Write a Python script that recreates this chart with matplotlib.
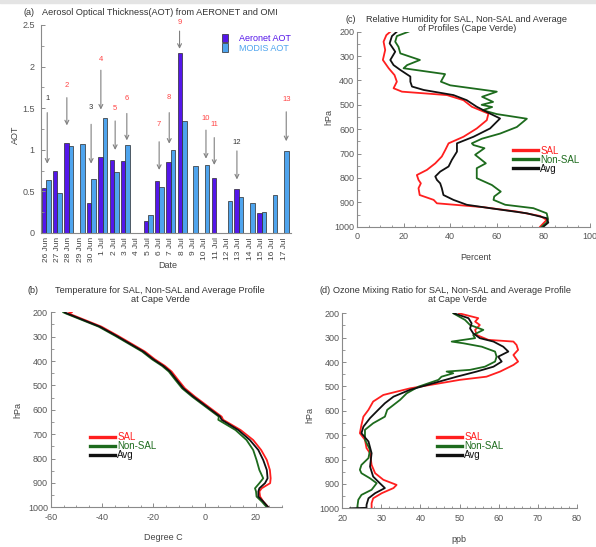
"""
Four-panel summary for Cape Verde: AOT bars (AERONET vs MODIS) and
SAL / Non-SAL / average profiles of temperature, RH and ozone.
"""

import matplotlib
matplotlib.use("Agg")
import matplotlib.pyplot as plt
from matplotlib.patches import Patch, Rectangle
from matplotlib.lines import Line2D
from matplotlib.ticker import MultipleLocator
import numpy as np

plt.rcParams['font.family'] = ['Liberation Sans', 'DejaVu Sans']
plt.rcParams['font.size'] = 6.5
plt.rcParams['axes.unicode_minus'] = False

nan = np.nan

# ---- (a) AOT ----
dates = ["26 Jun", "27 Jun", "28 Jun", "29 Jun", "30 Jun", "1 Jul", "2 Jul", "3 Jul",
         "4 Jul", "5 Jul", "6 Jul", "7 Jul", "8 Jul", "9 Jul", "10 Jul", "11 Jul",
         "12 Jul", "13 Jul", "14 Jul", "15 Jul", "16 Jul", "17 Jul"]
aeronet_aot = [0.54, 0.75, 1.08, nan, 0.36, 0.91, 0.88, 0.86, nan, 0.14, 0.63, 0.85,
               2.16, nan, nan, 0.66, nan, 0.53, nan, 0.24, nan, nan]
modis_aot = [0.64, 0.48, 1.04, 1.07, 0.65, 1.38, 0.73, 1.06, nan, 0.22, 0.55, 1.00,
             1.35, 0.80, 0.82, nan, 0.38, 0.43, 0.36, 0.25, 0.46, 0.99]

# dust events marked with arrows: number, date index, label / tail / head AOT
event_num = ["1", "2", "3", "4", "5", "6", "7", "8", "9", "10", "11", "12", "13"]
event_x = [0.1, 1.83, 3.97, 4.83, 6.09, 7.12, 9.97, 10.86, 11.77, 14.1, 14.83, 16.83, 21.18]
event_label_y = [1.62, 1.77, 1.51, 2.09, 1.50, 1.62, 1.31, 1.63, 2.53, 1.38, 1.31, 1.085, 1.60]
event_tail = [1.48, 1.66, 1.34, 1.99, 1.38, 1.47, 1.13, 1.48, 2.46, 1.27, 1.18, 1.02, 1.49]
event_head = [0.80, 1.26, 0.80, 1.45, 0.965, 1.08, 0.725, 1.04, 2.18, 0.86, 0.785, 0.61, 1.07]
event_is_sal = [False, True, False, True, True, True, True, True, True, True, True, False, True]

# ---- (c) relative humidity (%) ----
rh_sal_p = [200, 214, 241, 275, 316, 350, 378, 405, 432, 446, 460, 481, 508, 536, 563,
            597, 631, 658, 685, 712, 740, 767, 788, 808, 822, 842, 870, 890, 904, 920,
            938, 956, 972, 986, 1000]
rh_sal = [14.3, 12.6, 11.4, 12.1, 11.1, 13.6, 16.1, 17.1, 15.7, 19.3, 38.6, 45.7, 49.3,
          56.4, 55.7, 51.4, 45.7, 39.3, 37.9, 36.4, 33.6, 30.0, 25.7, 26.4, 27.4, 26.4,
          26.9, 32.9, 34.3, 54.3, 68.6, 78.6, 81.4, 80.0, 78.6]
rh_non_p = [200, 218, 241, 262, 289, 316, 337, 350, 374, 405, 420, 446, 467, 488, 500,
            509, 522, 538, 557, 591, 618, 639, 658, 665, 678, 705, 740, 760, 801, 829,
            856, 876, 890, 910, 924, 945, 969, 983, 1000]
rh_non = [22.1, 17.1, 16.4, 17.8, 18.6, 27.0, 21.5, 20.0, 37.8, 36.0, 40.0, 60.0, 53.7,
          58.4, 53.5, 58.0, 54.0, 60.0, 72.9, 68.6, 61.4, 53.6, 49.3, 50.0, 54.7, 50.7,
          55.3, 51.4, 51.4, 57.9, 61.7, 58.9, 58.6, 63.6, 75.7, 81.4, 82.0, 81.4, 79.3]
rh_avg_p = [200, 218, 248, 282, 316, 337, 357, 384, 405, 425, 439, 460, 481, 508, 536,
            556, 597, 631, 658, 692, 726, 753, 774, 794, 808, 822, 842, 870, 890, 910,
            924, 945, 965, 983, 1000]
rh_avg = [17.1, 15.0, 14.0, 16.4, 14.3, 15.7, 18.6, 22.9, 22.9, 23.6, 28.6, 41.4, 47.1,
          51.4, 57.1, 61.4, 57.1, 50.0, 42.9, 42.9, 40.7, 39.3, 35.7, 33.6, 34.3, 35.7,
          36.4, 37.1, 41.4, 47.1, 57.1, 72.9, 81.4, 82.1, 80.0]

# ---- (b) temperature (deg C) ----
t_upper_p = [204, 259, 297, 337, 361, 393, 420, 443, 478, 512, 546, 587, 628]
t_upper = [-53.8, -40.8, -34.3, -27.8, -23.9, -20.0, -16.1, -13.5, -10.9, -8.3, -4.4, 0.8, 6.0]
t_low_p = [641, 683, 724, 765, 806, 847, 881, 901, 922, 935, 956, 976, 1000]
t_sal_low = [7.2, 14.0, 18.9, 22.0, 24.2, 25.4, 25.7, 25.5, 22.2, 21.3, 21.6, 22.8, 24.8]
t_non_low = [5.3, 12.0, 16.3, 18.9, 20.2, 21.3, 22.8, 21.3, 19.6, 20.0, 20.2, 22.2, 24.2]
t_avg_low = [6.6, 13.1, 17.6, 20.9, 22.8, 24.2, 24.5, 23.5, 21.3, 20.9, 20.9, 22.8, 24.8]
t_top_sal = -51.8
t_top_non = -55.1
t_top_avg = -54.5

# ---- (d) ozone (ppb) ----
o3_sal_p = [200, 220, 234, 248, 268, 289, 309, 316, 330, 350, 371, 398, 412, 439, 460,
            473, 487, 508, 535, 562, 596, 624, 658, 692, 719, 753, 774, 822, 856, 883,
            904, 917, 938, 959, 979, 1000]
o3_sal = [49.9, 54.8, 54.0, 55.2, 54.0, 54.4, 57.4, 63.8, 64.6, 65.0, 63.8, 65.0, 63.8,
          60.4, 56.9, 50.1, 45.0, 37.3, 30.5, 27.9, 26.7, 25.4, 24.9, 24.5, 25.8, 26.2,
          27.1, 27.5, 28.4, 30.5, 33.9, 33.1, 30.1, 27.9, 27.5, 27.5]
o3_non_p = [200, 227, 248, 268, 289, 302, 316, 323, 337, 357, 378, 398, 419, 432, 439,
            446, 460, 473, 501, 528, 555, 596, 624, 651, 678, 719, 760, 794, 822, 842,
            856, 877, 897, 924, 945, 965, 1000]
o3_non = [48.4, 51.4, 52.7, 56.1, 53.5, 54.0, 48.0, 51.0, 55.7, 59.1, 59.5, 59.1, 56.5,
          52.7, 46.7, 48.4, 45.4, 44.6, 39.5, 36.5, 34.8, 31.5, 30.9, 27.9, 25.8, 25.8,
          27.1, 26.7, 24.9, 24.5, 24.9, 27.1, 28.8, 27.5, 24.9, 24.1, 23.8]
o3_avg_p = [200, 220, 241, 262, 282, 302, 316, 337, 357, 378, 398, 419, 439, 460, 487,
            514, 542, 569, 596, 630, 665, 692, 726, 774, 829, 870, 897, 917, 938, 959,
            986, 998, 1000]
o3_avg = [48.6, 52.3, 53.1, 52.7, 53.5, 55.2, 58.7, 61.2, 62.5, 59.9, 60.8, 58.7, 54.4,
          49.3, 43.3, 37.3, 33.1, 30.9, 29.2, 27.1, 25.4, 24.9, 26.7, 27.5, 27.1, 27.9,
          29.6, 30.9, 28.4, 26.7, 26.2, 26.2, 22.0]

SAL_C = "#ff1f1f"
NON_C = "#1d6b1d"
AVG_C = "#111111"
AER_C = "#5416ea"
MOD_C = "#4ea4ee"
GRID_C = "#8a8a8a"
TXT_C = "#555555"
TITLE_FS = 6.55

W, H = 596, 547


def fx(px):
    return px / W


def fy(py):
    return 1 - py / H


def style_axes(ax):
    for side in ("top", "right"):
        ax.spines[side].set_visible(False)
    for side in ("left", "bottom"):
        ax.spines[side].set_color(GRID_C)
        ax.spines[side].set_linewidth(0.8)
    ax.tick_params(which="both", direction="in", colors=GRID_C, labelcolor=TXT_C,
                   labelsize=6.5)
    ax.tick_params(which="major", length=3, width=0.7)
    ax.tick_params(which="minor", length=1.8, width=0.6)
    ax.tick_params(axis="y", pad=2)
    ax.tick_params(axis="x", pad=4)


def profile_axes(ax, xlim, xmajor, xminor):
    style_axes(ax)
    ax.set_xlim(*xlim)
    ax.set_ylim(1000, 200)
    ax.xaxis.set_major_locator(MultipleLocator(xmajor))
    ax.xaxis.set_minor_locator(MultipleLocator(xminor))
    ax.yaxis.set_major_locator(MultipleLocator(100))
    ax.yaxis.set_minor_locator(MultipleLocator(50))


def profile_legend(ax, x, y):
    handles = [Line2D([], [], color=SAL_C, lw=2.4),
               Line2D([], [], color=NON_C, lw=2.4),
               Line2D([], [], color=AVG_C, lw=2.4)]
    leg = ax.legend(handles, ["SAL", "Non-SAL", "Avg"], loc="upper left",
                    bbox_to_anchor=(x, y), frameon=False, borderpad=0,
                    borderaxespad=0, handlelength=2.6, handletextpad=0.2,
                    labelspacing=-0.1, fontsize=7)
    for t, c in zip(leg.get_texts(), [SAL_C, NON_C, AVG_C]):
        t.set_color(c)


fig = plt.figure(figsize=(W / 100, H / 100), dpi=100)
fig.patches.append(Rectangle((0, fy(3)), 1, 3 / H, transform=fig.transFigure,
                             color="#e4e4e4", zorder=0))

# (a) AOT bars
ax_a = fig.add_axes([fx(41), fy(233), fx(250), 208 / H])
style_axes(ax_a)
x = np.arange(len(dates))
bw = 0.4
ax_a.bar(x - bw / 2, aeronet_aot, bw, color=AER_C, edgecolor="#2a2a2a", linewidth=0.5)
ax_a.bar(x + bw / 2, modis_aot, bw, color=MOD_C, edgecolor="#2a2a2a", linewidth=0.5)
ax_a.set_xlim(-0.45, 21.6)
ax_a.set_ylim(0, 2.5)
ax_a.set_xticks(x)
ax_a.set_xticklabels(dates, rotation=90, fontsize=6)
ax_a.tick_params(axis="x", length=0, pad=3, labelcolor="#444444")
ax_a.yaxis.set_major_locator(MultipleLocator(0.5))
ax_a.yaxis.set_minor_locator(MultipleLocator(0.25))
ax_a.set_yticks([0, 0.5, 1, 1.5, 2, 2.5])
ax_a.set_yticklabels(["0", "0.5", "1", "1.5", "2", "2.5"])
ax_a.tick_params(axis="y", pad=4.5)

for num, ex, ly, tail, head, sal in zip(event_num, event_x, event_label_y,
                                         event_tail, event_head, event_is_sal):
    ax_a.annotate("", xy=(ex, head), xytext=(ex, tail),
                  arrowprops=dict(arrowstyle="->", color="#808080", lw=0.8,
                                  mutation_scale=7))
    ax_a.text(ex, ly, num, ha="center", va="center", fontsize=5.5,
              color="#ff4444" if sal else "#333333", clip_on=False)

leg = ax_a.legend(handles=[Patch(facecolor=AER_C, edgecolor="#2a2a2a", lw=0.5),
                           Patch(facecolor=MOD_C, edgecolor="#2a2a2a", lw=0.5)],
                  labels=["Aeronet AOT", "MODIS AOT"], loc="upper right",
                  bbox_to_anchor=(1.0, 0.955), frameon=False, borderpad=0,
                  borderaxespad=0, handlelength=0.7, handleheight=1.0,
                  handletextpad=1.2, labelspacing=0.0, fontsize=6.5)
for t, c in zip(leg.get_texts(), [AER_C, MOD_C]):
    t.set_color(c)

fig.text(fx(23), fy(12.5), "(a)", fontsize=6.5, va="center", color="#333333")
fig.text(fx(42), fy(12.5), "Aerosol Optical Thickness(AOT) from AERONET and OMI",
         fontsize=TITLE_FS, va="center", color="#333333")
fig.text(fx(15), fy(135), "AOT", rotation=90, fontsize=6.5, ha="center", va="center",
         color="#444444")
fig.text(fx(168), fy(266), "Date", fontsize=6.5, ha="center", va="center",
         color="#444444")

# (c) relative humidity
ax_c = fig.add_axes([fx(357), fy(226.7), fx(233), 195 / H])
profile_axes(ax_c, (0, 100), 20, 5)
ax_c.plot(rh_sal, rh_sal_p, color=SAL_C, lw=1.3)
ax_c.plot(rh_non, rh_non_p, color=NON_C, lw=1.3)
ax_c.plot(rh_avg, rh_avg_p, color=AVG_C, lw=1.3)
profile_legend(ax_c, 0.67, 0.415)
fig.text(fx(346), fy(19), "(c)", fontsize=6.5, va="center", color="#333333")
fig.text(fx(467), fy(19), "Relative Humidity for SAL, Non-SAL and Average",
         fontsize=TITLE_FS, ha="center", va="center", color="#333333")
fig.text(fx(467), fy(28.5), "of Profiles (Cape Verde)", fontsize=TITLE_FS, ha="center",
         va="center", color="#333333")
fig.text(fx(329), fy(117), "hPa", rotation=90, fontsize=6.5, ha="center",
         va="center", color="#444444")
fig.text(fx(476), fy(257), "Percent", fontsize=6.5, ha="center", va="center",
         color="#444444")

# (b) temperature
ax_b = fig.add_axes([fx(50.7), fy(507.3), fx(231), 195 / H])
profile_axes(ax_b, (-60, 30), 20, 5)
p_b = [200] + t_upper_p + t_low_p
shift = {"sal": 0.6, "non": -0.5, "avg": 0.0}
ax_b.plot([t_top_sal] + [t + shift["sal"] for t in t_upper] + t_sal_low, p_b,
          color=SAL_C, lw=1.3)
ax_b.plot([t_top_non] + [t + shift["non"] for t in t_upper] + t_non_low, p_b,
          color=NON_C, lw=1.3)
ax_b.plot([t_top_avg] + t_upper + t_avg_low, p_b, color=AVG_C, lw=1.3)
profile_legend(ax_b, 0.17, 0.385)
fig.text(fx(28), fy(291), "(b)", fontsize=6.5, va="center", color="#333333")
fig.text(fx(160), fy(291), "Temperature for SAL, Non-SAL and Average Profile",
         fontsize=TITLE_FS, ha="center", va="center", color="#333333")
fig.text(fx(160), fy(300), "at Cape Verde", fontsize=TITLE_FS, ha="center",
         va="center", color="#333333")
fig.text(fx(18), fy(410), "hPa", rotation=90, fontsize=6.5, ha="center",
         va="center", color="#444444")
fig.text(fx(163), fy(538), "Degree C", fontsize=6.5, ha="center", va="center",
         color="#444444")

# (d) ozone
ax_d = fig.add_axes([fx(342.3), fy(508.3), fx(234.4), 195 / H])
profile_axes(ax_d, (20, 80), 10, 2)
ax_d.plot(o3_sal, o3_sal_p, color=SAL_C, lw=1.3)
ax_d.plot(o3_non, o3_non_p, color=NON_C, lw=1.3)
ax_d.plot(o3_avg, o3_avg_p, color=AVG_C, lw=1.3)
profile_legend(ax_d, 0.404, 0.39)
fig.text(fx(320), fy(291), "(d)", fontsize=6.5, va="center", color="#333333")
fig.text(fx(333), fy(291), "Ozone Mixing Ratio for SAL, Non-SAL and Average Profile",
         fontsize=TITLE_FS, ha="left", va="center", color="#333333")
fig.text(fx(457), fy(300), "at Cape Verde", fontsize=TITLE_FS, ha="center",
         va="center", color="#333333")
fig.text(fx(310), fy(415), "hPa", rotation=90, fontsize=6.5, ha="center",
         va="center", color="#444444")
fig.text(fx(459), fy(539), "ppb", fontsize=6.5, ha="center", va="center",
         color="#444444")

fig.savefig("out.png", dpi=100)
